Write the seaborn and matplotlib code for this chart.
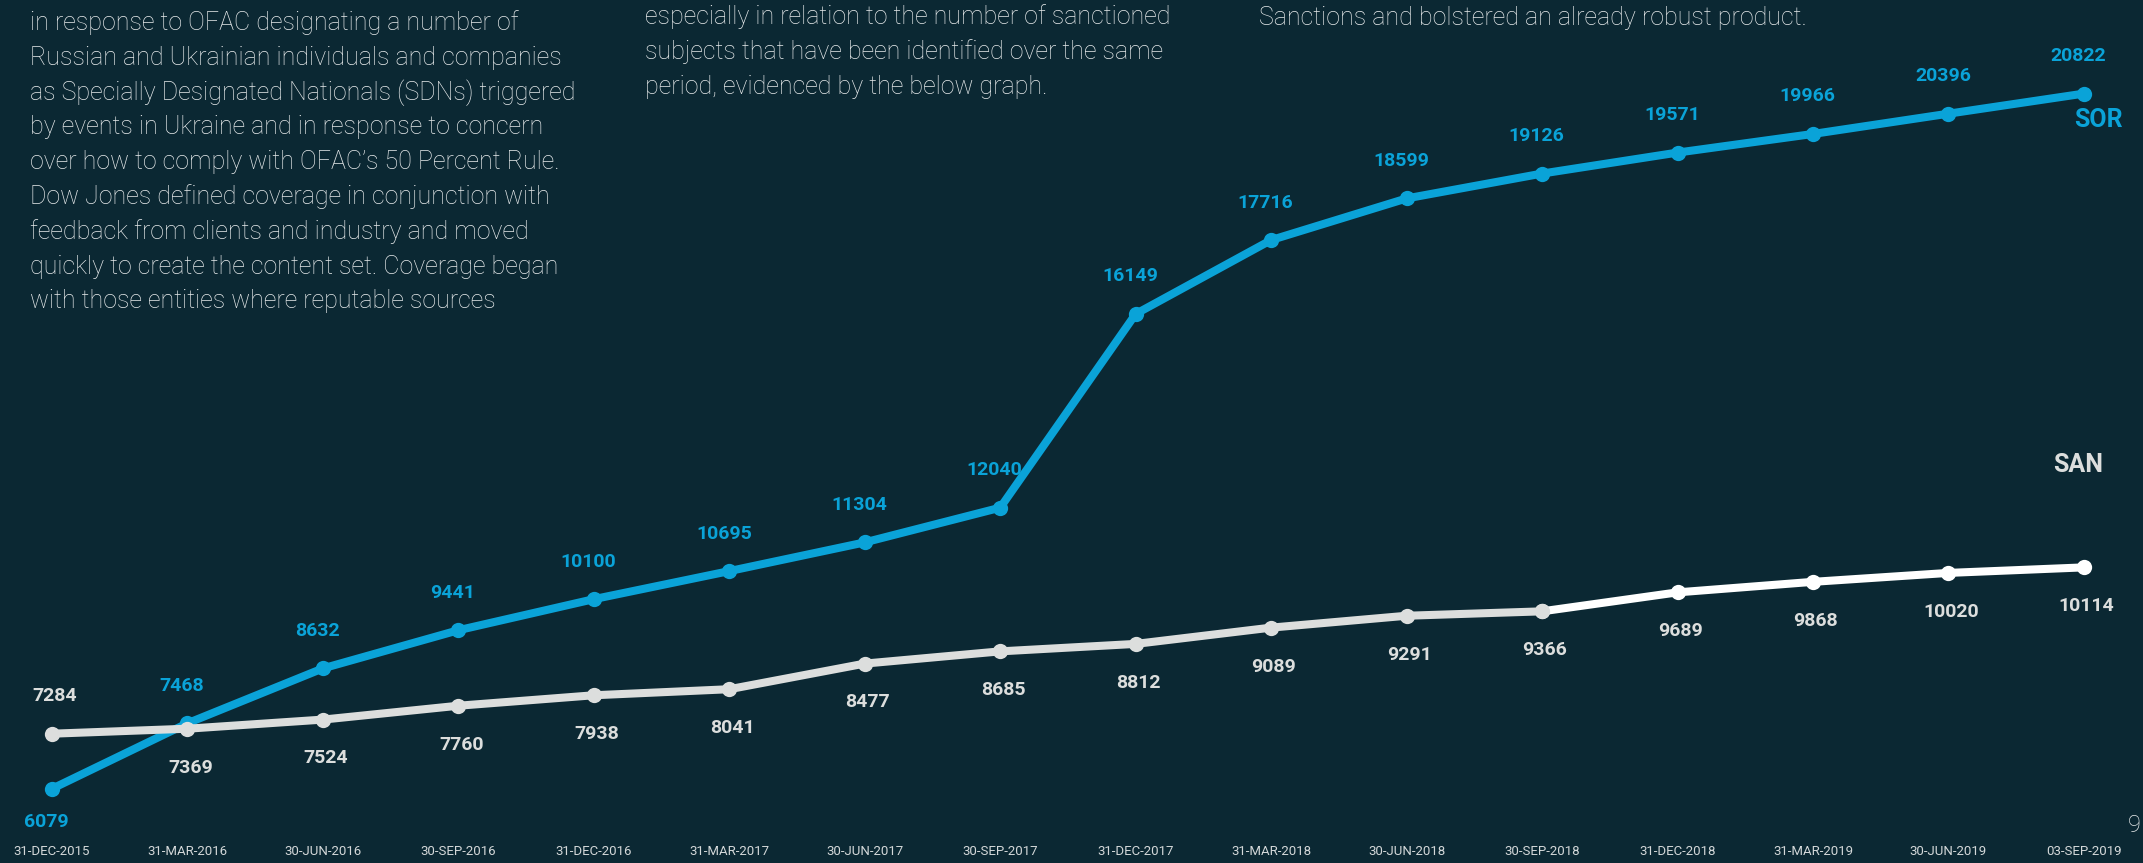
import numpy as np
import pandas as pd
import matplotlib
matplotlib.use("Agg")
import matplotlib.pyplot as plt
import seaborn as sns

# ---- data ----
dates = ["31-DEC-2015", "31-MAR-2016", "30-JUN-2016", "30-SEP-2016", "31-DEC-2016",
         "31-MAR-2017", "30-JUN-2017", "30-SEP-2017", "31-DEC-2017", "31-MAR-2018",
         "30-JUN-2018", "30-SEP-2018", "31-DEC-2018", "31-MAR-2019", "30-JUN-2019",
         "03-SEP-2019"]
sor = [6079, 7468, 8632, 9441, 10100, 10695, 11304, 12040, 16149, 17716,
       18599, 19126, 19571, 19966, 20396, 20822]
san = [7284, 7369, 7524, 7760, 7938, 8041, 8477, 8685, 8812, 9089,
       9291, 9366, 9689, 9868, 10020, 10114]

left_text = [
    "in response to OFAC designating a number of",
    "Russian and Ukrainian individuals and companies",
    "as Specially Designated Nationals (SDNs) triggered",
    "by events in Ukraine and in response to concern",
    "over how to comply with OFAC\u2019s 50 Percent Rule.",
    "Dow Jones defined coverage in conjunction with",
    "feedback from clients and industry and moved",
    "quickly to create the content set. Coverage began",
    "with those entities where reputable sources",
]
mid_text = [
    "especially in relation to the number of sanctioned",
    "subjects that have been identified over the same",
    "period, evidenced by the below graph.",
]
right_text = ["Sanctions and bolstered an already robust product."]

# ---- style ----
BG = "#0b2833"
BLUE = "#0aa3d8"
GREY = "#dcdedd"
WHITE = "#ffffff"
TXT = "#e8ebec"

sns.set_style("dark", rc={"axes.facecolor": BG, "figure.facecolor": BG})
plt.rcParams["font.family"] = ["Roboto", "DejaVu Sans"]

W, H = 2143, 863
fig = plt.figure(figsize=(W / 100, H / 100), dpi=100, facecolor=BG)
ax = fig.add_axes([0, 0, 1, 1])
ax.set_facecolor(BG)

idx = np.arange(len(dates))
df = pd.DataFrame({"idx": idx, "date": dates, "SOR": sor, "SAN": san})

lw = 5.8
ms = 11

sns.lineplot(data=df, x="idx", y="SOR", ax=ax, color=BLUE, linewidth=lw,
             marker="o", markersize=ms, markeredgewidth=0, legend=False)

ax2 = ax.twinx()
ax2.patch.set_visible(False)
tail = df.iloc[11:]
head = df.iloc[:12]
sns.lineplot(data=tail, x="idx", y="SAN", ax=ax2, color=WHITE, linewidth=lw,
             marker="o", markersize=ms, markeredgewidth=0, legend=False)
sns.lineplot(data=head, x="idx", y="SAN", ax=ax2, color=GREY, linewidth=lw,
             marker="o", markersize=ms, markeredgewidth=0, legend=False)

ax.set_xlim(-0.384, 15.436)
ax.set_ylim(4504, 22807)
ax2.set_ylim(5084, 19768)

for a in (ax, ax2):
    for s in a.spines.values():
        s.set_visible(False)
    a.set_ylabel("")
    a.set_xlabel("")
    a.set_yticks([])
    a.grid(False)

ax.set_xticks(idx)
ax.set_xticklabels(dates)
ax.tick_params(axis="x", length=0, pad=-13, labelsize=9.5, labelcolor="#d4d8d9")
ax2.tick_params(axis="x", length=0)

# value labels
for i, v in enumerate(sor):
    dy = -24 if i == 0 else 27
    ax.annotate(str(v), (i, v), xytext=(-4, dy), textcoords="offset points",
                ha="center", va="center", fontsize=14, fontweight="bold", color=BLUE)
for i, v in enumerate(san):
    dy = 27 if i == 0 else -28
    ax2.annotate(str(v), (i, v), xytext=(2, dy), textcoords="offset points",
                 ha="center", va="center", fontsize=14, fontweight="bold", color=GREY)

# series names
fig.text(2098 / W, 1 - 120 / H, "SOR", ha="center", va="center",
         fontsize=18, fontweight="bold", color=BLUE)
fig.text(2078 / W, 1 - 465 / H, "SAN", ha="center", va="center",
         fontsize=18, fontweight="bold", color=GREY)

# body texts
fs = 18
for i, line in enumerate(left_text):
    fig.text(30 / W, 1 - (23 + 34.8 * i) / H, line, ha="left", va="center",
             fontsize=fs, fontweight="light", color=TXT)
for i, line in enumerate(mid_text):
    fig.text(645 / W, 1 - (17 + 34.8 * i) / H, line, ha="left", va="center",
             fontsize=fs, fontweight="light", color=TXT)
for i, line in enumerate(right_text):
    fig.text(1259 / W, 1 - (18 + 34.8 * i) / H, line, ha="left", va="center",
             fontsize=fs, fontweight="light", color=TXT)

fig.text(2128 / W, 1 - 825 / H, "9", ha="left", va="center",
         fontsize=17, fontweight="light", color=TXT)

fig.savefig("out.png", dpi=100, facecolor=BG)
